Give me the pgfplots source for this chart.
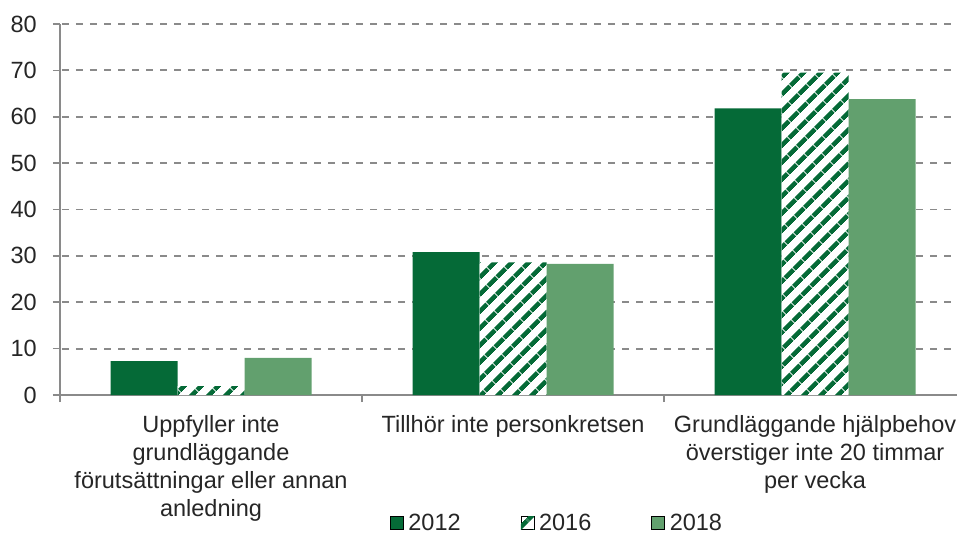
\documentclass[border=0pt]{standalone}
\usepackage{fontspec}
\setmainfont{Liberation Sans}
\usepackage{pgfplots}
\pgfplotsset{compat=1.18}
\usetikzlibrary{patterns.meta}
\definecolor{dkgreen}{HTML}{056A37}
\definecolor{ltgreen}{HTML}{62A06E}
\definecolor{axgray}{HTML}{8A8A8A}
\begin{document}
\begin{tikzpicture}
\begin{axis}[
  at={(0,0)}, anchor=south west,
  scale only axis, width=897pt, height=371pt,
  xmin=-0.5, xmax=2.47, ymin=0, ymax=80,
  axis lines=left,
  axis line style={draw=axgray, line width=1.6pt, -},
  ytick={0,10,...,80},
  ymajorgrids,
  major grid style={axgray, dash pattern=on 7pt off 7pt, dash phase=-2pt, line width=1.8pt},
  tick align=outside,
  major tick length=7pt,
  tick style={axgray, line width=1.6pt},
  xtick={0,1,2},
  xtick style={draw=none},
  xticklabels={{Uppfyller inte\\grundläggande\\förutsättningar eller annan\\anledning}, {Tillhör inte personkretsen}, {Grundläggande hjälpbehov\\överstiger inte 20 timmar\\per vecka}},
  xticklabel style={align=center, font=\fontsize{23.5}{28}\selectfont, anchor=north, inner sep=0pt, yshift=-13pt, text=black!85},
  extra x ticks={-0.5,0.5,1.5},
  extra x tick labels={},
  extra x tick style={grid=none, xtick style={draw=axgray}},
  yticklabel style={font=\fontsize{23.5}{28}\selectfont, anchor=east, inner sep=0pt, xshift=-16pt, text=black!85},
  /pgf/number format/assume math mode=true,
  ybar=0pt, bar width=67pt,
  legend columns=3,
  legend image code/.code={\draw[#1] (0pt,-6.5pt) rectangle (13pt,6.5pt);},
  legend style={draw=none, fill=none, at={(axis description cs:0.3679,-0.3693)}, anchor=south west,
    font=\fontsize{23.5}{28}\selectfont, text=black!85, inner sep=0pt, outer sep=0pt,
    nodes={inner sep=0pt},
    /tikz/every odd column/.append style={column sep=5pt},
    /tikz/every even column/.append style={column sep=60pt}},
]
\addplot[fill=dkgreen, draw=none] coordinates {(0,7.3) (1,30.8) (2,61.8)};
\addplot[fill=white, draw=none, postaction={pattern={Lines[angle=45,distance=13pt,line width=5pt]}, pattern color=dkgreen}] coordinates {(0,1.9) (1,28.6) (2,69.5)};
\addplot[fill=ltgreen, draw=none] coordinates {(0,8.0) (1,28.3) (2,63.8)};
\legend{2012,2016,2018}
\end{axis}
\pgfresetboundingbox
\path[use as bounding box] (-60pt,-137pt) rectangle (897pt,395pt);
\end{tikzpicture}
\end{document}
